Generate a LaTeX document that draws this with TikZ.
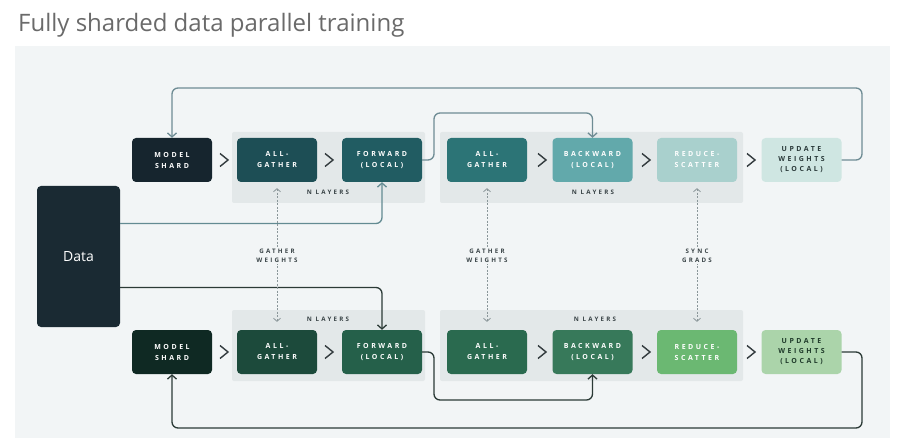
\documentclass[tikz,border=0pt]{standalone}
\usepackage{fontspec}
\setmainfont{Open Sans}
\newfontfamily\capsfont[LetterSpace=36]{Open Sans}
\usetikzlibrary{arrows.meta}

% colours of the upper (teal) and lower (green) rows
\definecolor{bgpanel}{HTML}{F2F5F6}
\definecolor{layergray}{HTML}{E3E8E9}
\definecolor{titlegray}{HTML}{6A6A6A}
\definecolor{labelgray}{HTML}{3A4447}
\definecolor{chevgray}{HTML}{333B3E}
\definecolor{dashgray}{HTML}{8A9699}
\definecolor{datanavy}{HTML}{1A2A33}
\definecolor{topms}{HTML}{16252E}
\definecolor{topag}{HTML}{1D4E55}
\definecolor{topfw}{HTML}{215C62}
\definecolor{topagb}{HTML}{2C7476}
\definecolor{topbw}{HTML}{62A9AB}
\definecolor{toprs}{HTML}{A9D0CD}
\definecolor{topuw}{HTML}{CFE6E2}
\definecolor{toptext}{HTML}{2A3A3A}
\definecolor{topline}{HTML}{6E8C94}
\definecolor{botms}{HTML}{0F2923}
\definecolor{botag}{HTML}{1C4A3B}
\definecolor{botfw}{HTML}{25604A}
\definecolor{botagb}{HTML}{2A6A4F}
\definecolor{botbw}{HTML}{37795A}
\definecolor{botrs}{HTML}{6BB872}
\definecolor{botuw}{HTML}{ABD4AA}
\definecolor{bottext}{HTML}{1F3A2A}
\definecolor{botline}{HTML}{2B3A36}

\tikzset{
  stepbox/.style={rounded corners=4pt, minimum width=80pt, minimum height=44pt,
    inner sep=0pt, align=center, text=white,
    font=\capsfont\bfseries\fontsize{7}{11}\selectfont},
  layerpanel/.style={fill=layergray, rounded corners=2pt},
  layerlabel/.style={text=labelgray, font=\capsfont\bfseries\fontsize{6.2}{7.5}\selectfont},
  chevron/.style={draw=chevgray, line width=1.4pt},
  flowline/.style={line width=1.3pt, rounded corners=6pt,
    -{Straight Barb[length=4pt,width=9pt,line width=1.3pt]}},
  syncline/.style={draw=dashgray, line width=0.8pt, dash pattern=on 2pt off 1.5pt,
    shorten <=6pt, shorten >=8pt,
    {Straight Barb[length=3pt,width=7pt,line width=0.8pt]}-{Straight Barb[length=3pt,width=7pt,line width=0.8pt]}},
  synclabel/.style={fill=bgpanel, inner sep=1.5pt, align=center, text=labelgray,
    font=\capsfont\bfseries\fontsize{6.2}{8.5}\selectfont}
}

\begin{document}
\begin{tikzpicture}[x=1pt, y=-1pt]
  \useasboundingbox (0,0) rectangle (907,438);
  \fill[white] (0,0) rectangle (907,438);
  \fill[bgpanel] (15,46) rectangle (890,438);

  % Title
  \node[anchor=base west, text=titlegray, font=\fontsize{24}{28}\selectfont, inner sep=0pt]
    (title) at (18,32) {Fully sharded data parallel training};

  % N layers panels
  \fill[layerpanel] (232,132) rectangle (425,203);
  \fill[layerpanel] (440,132) rectangle (743,203);
  \fill[layerpanel] (232,310) rectangle (425,381);
  \fill[layerpanel] (440,310) rectangle (743,381);
  \node[layerlabel] (tnl1) at (328,192) {N LAYERS};
  \node[layerlabel] (tnl2) at (593,192) {N LAYERS};
  \node[layerlabel] (bnl1) at (328,319) {N LAYERS};
  \node[layerlabel] (bnl2) at (595,319) {N LAYERS};

  % Data
  \node[stepbox, fill=datanavy, minimum width=83pt, minimum height=141pt,
    font=\fontsize{14}{16}\selectfont] (data) at (78.5,256.5) {Data};

  % Upper row
  \node[stepbox, fill=topms] (tms) at (172,160) {MODEL\\SHARD};
  \node[stepbox, fill=topag] (tag) at (277,160) {ALL-\\GATHER};
  \node[stepbox, fill=topfw] (tfw) at (382,160) {FORWARD\\(LOCAL)};
  \node[stepbox, fill=topagb] (tagb) at (487,160) {ALL-\\GATHER};
  \node[stepbox, fill=topbw] (tbw) at (592.5,160) {BACKWARD\\(LOCAL)};
  \node[stepbox, fill=toprs] (trs) at (697,160) {REDUCE-\\SCATTER};
  \node[stepbox, fill=topuw, text=toptext, font=\capsfont\bfseries\fontsize{7}{10}\selectfont]
    (tuw) at (801.5,160) {UPDATE\\WEIGHTS\\(LOCAL)};

  % Lower row
  \node[stepbox, fill=botms] (bms) at (172,352) {MODEL\\SHARD};
  \node[stepbox, fill=botag] (bag) at (277,352) {ALL-\\GATHER};
  \node[stepbox, fill=botfw] (bfw) at (382,352) {FORWARD\\(LOCAL)};
  \node[stepbox, fill=botagb] (bagb) at (487,352) {ALL-\\GATHER};
  \node[stepbox, fill=botbw] (bbw) at (592.5,352) {BACKWARD\\(LOCAL)};
  \node[stepbox, fill=botrs] (brs) at (697,352) {REDUCE-\\SCATTER};
  \node[stepbox, fill=botuw, text=bottext, font=\capsfont\bfseries\fontsize{7}{10}\selectfont]
    (buw) at (801.5,352) {UPDATE\\WEIGHTS\\(LOCAL)};

  % Chevrons between the steps
  \foreach \cx in {224,329,542,646,751}
    \foreach \cy in {160,352}
      \draw[chevron] (\cx-4,\cy-6.5) -- (\cx+4,\cy) -- (\cx-4,\cy+6.5);

  % Upper connectors
  \coordinate (ttop) at (862,88);
  \coordinate (tmid) at (434,113);
  \draw[flowline, topline] (tuw.east) -| (ttop) -| (tms.north);
  \draw[flowline, topline] (tfw.east) -| (tmid) -| (tbw.north);
  \draw[flowline, topline!90!teal] ([yshift=33pt]data.east) -| (tfw.south);

  % Lower connectors
  \coordinate (bbot) at (862,428);
  \coordinate (bmid) at (434,400);
  \draw[flowline, botline] (buw.east) -| (bbot) -| (bms.south);
  \draw[flowline, botline] (bfw.east) -| (bmid) -| (bbw.south);
  \draw[flowline, botline] ([yshift=-31pt]data.east) -| (bfw.north);

  % Gather and sync between the rows
  \draw[syncline] (tag.south) -- (bag.north) node[synclabel, midway] (gw1) {GATHER\\WEIGHTS};
  \draw[syncline] (tagb.south) -- (bagb.north) node[synclabel, midway] (gw2) {GATHER\\WEIGHTS};
  \draw[syncline] (trs.south) -- (brs.north) node[synclabel, midway] (sg) {SYNC\\GRADS};
\end{tikzpicture}
\end{document}
